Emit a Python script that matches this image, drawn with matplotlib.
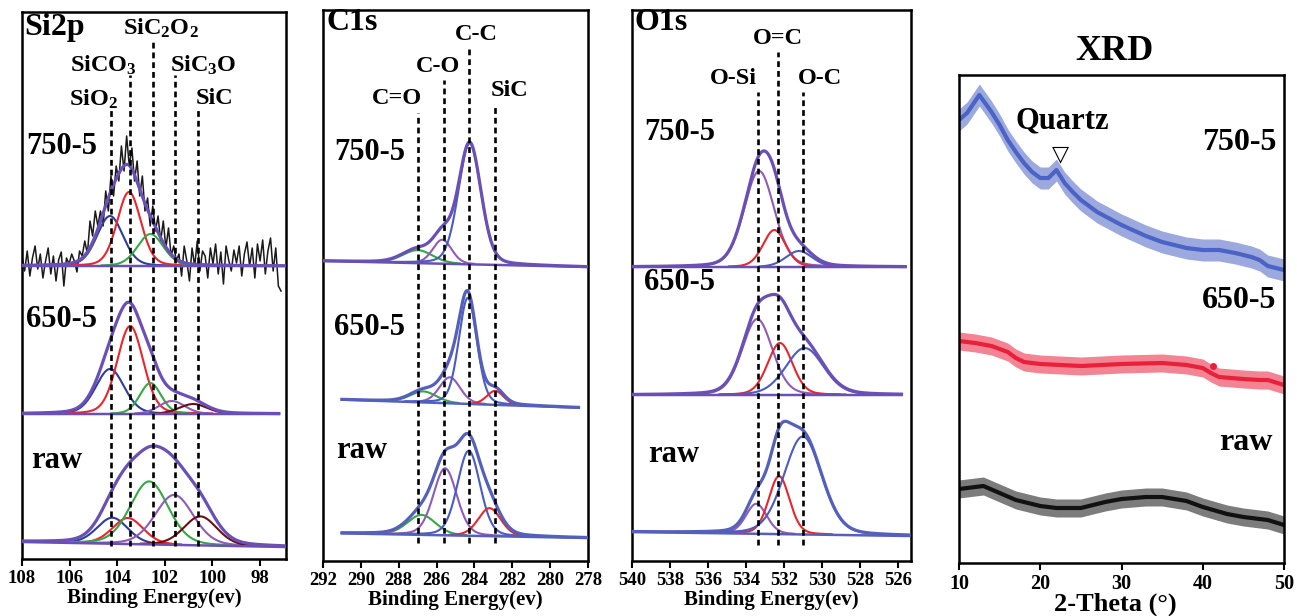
import numpy as np
import matplotlib
matplotlib.use('Agg')
import matplotlib.pyplot as plt

W, H = 1297, 616
plt.rcParams['font.family'] = ['Liberation Serif', 'DejaVu Serif']
plt.rcParams['font.weight'] = 'bold'
plt.rcParams['mathtext.fontset'] = 'custom'
plt.rcParams['mathtext.rm'] = 'Liberation Serif:bold'
plt.rcParams['mathtext.it'] = 'Liberation Serif:bold'
plt.rcParams['mathtext.bf'] = 'Liberation Serif:bold'

# ---------------- data ----------------
samples = ['750-5', '650-5', 'raw']

# Si2p
si_peak_names = ['SiO$_2$', 'SiCO$_3$', 'SiC$_2$O$_2$', 'SiC$_3$O', 'SiC']
si_peak_pos = [104.25, 103.45, 102.5, 101.55, 100.6]
si_baseline = [(293, 293), (145, 145), (17, 12)]          # left, right
si_span = [(108.0, 96.9), (108.0, 97.2), (108.0, 96.9)]
si750_c = [104.3, 103.5, 102.6]
si750_h = [50, 74, 32]
si750_s = [0.55, 0.5, 0.55]
si650_c = [104.3, 103.45, 102.6, 101.7, 100.8]
si650_h = [45, 88, 31, 13, 10]
si650_s = [0.6, 0.55, 0.45, 0.55, 0.6]
siraw_c = [104.2, 103.55, 102.65, 101.6, 100.5]
siraw_h = [26, 26, 63, 50, 29]
siraw_s = [0.65, 0.65, 0.8, 0.8, 0.7]
# measured (noisy) 750-5 Si2p trace, height above baseline, from 108 eV in 0.11 eV steps
si750_raw = [10, -5, 15, -10, 8, 20, -3, 12, -12, 5,
             18, -8, 10, -15, 6, 14, -20, 8, 2, 12,
             5, -6, 15, 10, 25, 12, 45, 30, 55, 40,
             55, 40, 75, 55, 90, 70, 100, 85, 120, 95,
             130, 100, 118, 85, 105, 70, 90, 55, 68, 40,
             60, 35, 50, 25, 45, 18, 38, 10, 20, 5,
             12, -10, 20, 5, -15, 18, 0, 25, -5, 15,
             10, -12, 18, 2, 22, -8, 14, -18, 20, 6,
             -5, 16, 3, 20, -10, 12, 24, 0, 18, -12,
             22, 5, 26, -8, 15, 28, -5, 18, -20, -25]

# C1s
c_peak_names = ['C=O', 'C-O', 'C-C', 'SiC']
c_peak_pos = [287.0, 285.6, 284.3, 282.9]
c_baseline = [(300, 294), (162, 153), (28, 23)]
c_span = [(292.0, 278.0), (291.0, 278.5), (291.0, 278.0)]
c750_c = [287.0, 285.7, 284.25]
c750_h = [13, 24, 121]
c750_s = [0.8, 0.5, 0.6]
c650_c = [286.7, 285.3, 284.35, 282.9]
c650_h = [11, 26, 106, 14]
c650_s = [0.7, 0.55, 0.48, 0.45]
craw_c = [286.8, 285.55, 284.3, 283.2]
craw_h = [20, 67, 85, 28]
craw_s = [0.75, 0.62, 0.6, 0.6]

# O1s
o_peak_names = ['O-Si', 'O=C', 'O-C']
o_peak_pos = [533.35, 532.3, 531.0]
o_baseline = [(294, 294), (166, 166), (29, 25)]
o_span = [(540.0, 525.6), (540.0, 525.8), (540.0, 525.4)]
o750_c = [533.3, 532.5, 531.2]
o750_h = [96, 37, 16]
o750_s = [0.8, 0.6, 0.7]
o650_c = [533.4, 532.2, 530.9]
o650_h = [76, 52, 47]
o650_s = [0.8, 0.66, 1.0]
oraw_c = [533.45, 532.25, 531.0]
oraw_h = [30, 58, 98]
oraw_s = [0.55, 0.55, 1.0]

# Gaussian-Lorentzian mixing of the fitted line shapes
gl_mix = 0.2

# XRD
xrd_750_t = [10, 11, 12.5, 14, 15, 16, 17, 18, 19, 20, 21, 22, 23, 24, 25, 27, 30, 33, 35, 38, 40, 42, 44, 46, 47, 48, 50]
xrd_750_y = [443, 450, 468, 451, 438, 423, 411, 400, 391, 385, 385, 393, 380, 371, 363, 351, 338, 327, 321, 315, 313, 313, 310, 306, 303, 297, 293]
xrd_650_t = [10, 12, 14, 16, 17, 18, 20, 25, 30, 35, 38, 40, 41, 42, 45, 47, 48, 50]
xrd_650_y = [222, 220, 217, 211, 205, 201, 199, 197, 199, 200, 198, 195, 190, 186, 184, 183, 183, 178]
xrd_raw_t = [10, 13, 15, 17, 20, 22, 25, 28, 30, 33, 35, 38, 40, 43, 45, 48, 50]
xrd_raw_y = [74, 77, 70, 63, 57, 55, 55, 61, 64, 66, 66, 62, 56, 49, 46, 43, 38]
xrd_noise = [11, 9, 9]
xrd_dot = (41.2, 197)

# ---------------- helpers ----------------
def peak(x, c, h, s, eta=gl_mix):
    g = np.exp(-(x - c) ** 2 / (2 * s ** 2))
    l = 1.0 / (1.0 + ((x - c) / (1.1774 * s)) ** 2)
    return h * ((1 - eta) * g + eta * l)

panels = {
    'si': (22, 286, 12, 559),
    'c': (323, 588, 10, 561),
    'o': (632, 911, 10, 561),
    'x': (959, 1284, 75, 563),
}

fig = plt.figure(figsize=(W / 100, H / 100), dpi=100)

def make_ax(key, xlim, ticks, lsize=13.5):
    l, r, t, b = panels[key]
    ax = fig.add_axes([l / W, 1 - b / H, (r - l) / W, (b - t) / H])
    ax.set_xlim(*xlim)
    ax.set_ylim(0, b - t)
    ax.set_yticks([])
    ax.set_xticks(ticks)
    ax.tick_params(axis='x', direction='out', length=5, width=1.5, labelsize=lsize, pad=3)
    for lab in ax.get_xticklabels():
        lab.set_fontweight('bold')
    for sp in ax.spines.values():
        sp.set_linewidth(1.8)
    return ax

def ftext(x, y, s, size, ha='left', **kw):
    fig.text(x / W, 1 - y / H, s, fontsize=size, fontweight='bold', ha=ha, va='center', **kw)

def spectrum(ax, span, baseline, cs, hs, ss, cols, env_col):
    x = np.linspace(span[0], span[1], 1200)
    xl, xr = ax.get_xlim()
    base = baseline[0] + (baseline[1] - baseline[0]) * (x - xl) / (xr - xl)
    total = base.copy()
    for c, h, s, col in zip(cs, hs, ss, cols):
        g = peak(x, c, h, s)
        total += g
        m = g > 0.6
        ax.plot(x[m], (base + g)[m], color=col, lw=1.5, zorder=2)
    ax.plot(x, base, color=env_col, lw=1.8, zorder=3)
    ax.plot(x, total, color=env_col, lw=2.3, zorder=3)

def dashed(ax, x, top_px, key, bottom_px=546):
    l, r, t, b = panels[key]
    ax.plot([x, x], [b - bottom_px, b - top_px], color='black', lw=1.9,
            linestyle=(0, (2.2, 1.5)), zorder=5)

BLUE = '#2E3D9C'
RED = '#E8262D'
GREEN = '#35A845'
PURP = '#8E5CB5'
DRED = '#6A0F14'
ENV = '#6A50B4'
ENVB = '#5560BA'
CBLUE = '#4A5CC4'

# ---------------- Si2p ----------------
ax = make_ax('si', (108, 96.9), [108, 106, 104, 102, 100, 98])
xn = [108 - 0.11 * i for i in range(len(si750_raw))]
ax.plot(xn, [si_baseline[0][0] + v for v in si750_raw], color='#1a1a1a', lw=1.1, zorder=1)
spectrum(ax, si_span[0], si_baseline[0], si750_c, si750_h, si750_s, [BLUE, RED, GREEN], ENV)
spectrum(ax, si_span[1], si_baseline[1], si650_c, si650_h, si650_s, [BLUE, RED, GREEN, PURP, DRED], ENV)
spectrum(ax, si_span[2], si_baseline[2], siraw_c, siraw_h, siraw_s, [BLUE, RED, GREEN, PURP, DRED], ENV)
si_tops = [110, 75, 40, 75, 110]
for xp, tp in zip(si_peak_pos, si_tops):
    dashed(ax, xp, tp, 'si')
ax.set_xlabel('Binding Energy(ev)', fontsize=15, fontweight='bold', labelpad=1)
ftext(24, 27, 'Si2p', 23)
si_lab_xy = [(94, 99), (103, 65), (161, 28), (203, 65), (215, 99)]
for name, (lx, ly) in zip(si_peak_names, si_lab_xy):
    ftext(lx, ly, name, 17.5, ha='center')
ftext(26, 146, samples[0], 22)
ftext(26, 320, samples[1], 22)
ftext(31, 460, samples[2], 22)

# ---------------- C1s ----------------
ax = make_ax('c', (292, 278), list(range(292, 277, -2)))
spectrum(ax, c_span[0], c_baseline[0], c750_c, c750_h, c750_s, [GREEN, PURP, CBLUE], ENV)
spectrum(ax, c_span[1], c_baseline[1], c650_c, c650_h, c650_s, [GREEN, PURP, CBLUE, RED], ENVB)
spectrum(ax, c_span[2], c_baseline[2], craw_c, craw_h, craw_s, [GREEN, PURP, CBLUE, RED], ENVB)
c_tops = [113, 80, 48, 105]
for xp, tp in zip(c_peak_pos, c_tops):
    dashed(ax, xp, tp, 'c', 543)
ax.set_xlabel('Binding Energy(ev)', fontsize=15, fontweight='bold', labelpad=1)
ftext(326, 23, 'C1s', 23)
c_lab_xy = [(397, 99), (438, 67), (476, 35), (510, 91)]
for name, (lx, ly) in zip(c_peak_names, c_lab_xy):
    ftext(lx, ly, name, 17.5, ha='center')
ftext(334, 152, samples[0], 22)
ftext(334, 327, samples[1], 22)
ftext(336, 451, samples[2], 22)

# ---------------- O1s ----------------
ax = make_ax('o', (540, 525.3), list(range(540, 525, -2)))
spectrum(ax, o_span[0], o_baseline[0], o750_c, o750_h, o750_s, [PURP, RED, CBLUE], ENV)
spectrum(ax, o_span[1], o_baseline[1], o650_c, o650_h, o650_s, [PURP, RED, CBLUE], ENV)
spectrum(ax, o_span[2], o_baseline[2], oraw_c, oraw_h, oraw_s, [PURP, RED, CBLUE], ENVB)
o_tops = [92, 52, 92]
for xp, tp in zip(o_peak_pos, o_tops):
    dashed(ax, xp, tp, 'o', 545)
ax.set_xlabel('Binding Energy(ev)', fontsize=15, fontweight='bold', labelpad=1)
ftext(635, 23, 'O1s', 23)
o_lab_xy = [(733, 79), (778, 39), (820, 79)]
for name, (lx, ly) in zip(o_peak_names, o_lab_xy):
    ftext(lx, ly, name, 17.5, ha='center')
ftext(644, 133, samples[0], 22)
ftext(644, 283, samples[1], 22)
ftext(648, 455, samples[2], 22)

# ---------------- XRD ----------------
ax = make_ax('x', (10, 50), [10, 20, 30, 40, 50], lsize=14.5)
for t, y, n, col in [(xrd_750_t, xrd_750_y, xrd_noise[0], '#4A63C4'),
                     (xrd_650_t, xrd_650_y, xrd_noise[1], '#E8203A'),
                     (xrd_raw_t, xrd_raw_y, xrd_noise[2], '#111111')]:
    ya = np.array(y, dtype=float)
    ax.fill_between(t, ya - n, ya + n, color=col, alpha=0.55, lw=0)
    ax.plot(t, ya, color=col, lw=3)
ax.plot([xrd_dot[0]], [xrd_dot[1]], 'o', color='#E8203A', ms=4)
ftext(1115, 604, '2-Theta (°)', 19, ha='center')
ftext(1115, 51, 'XRD', 26, ha='center')
ftext(1062, 121, 'Quartz', 22, ha='center')
ftext(1060, 154, '▽', 16, ha='center', family=['DejaVu Sans'])
ftext(1276, 142, samples[0], 23, ha='right')
ftext(1276, 300, samples[1], 23, ha='right')
ftext(1273, 442, samples[2], 23, ha='right')

fig.savefig('out.png', dpi=100)
